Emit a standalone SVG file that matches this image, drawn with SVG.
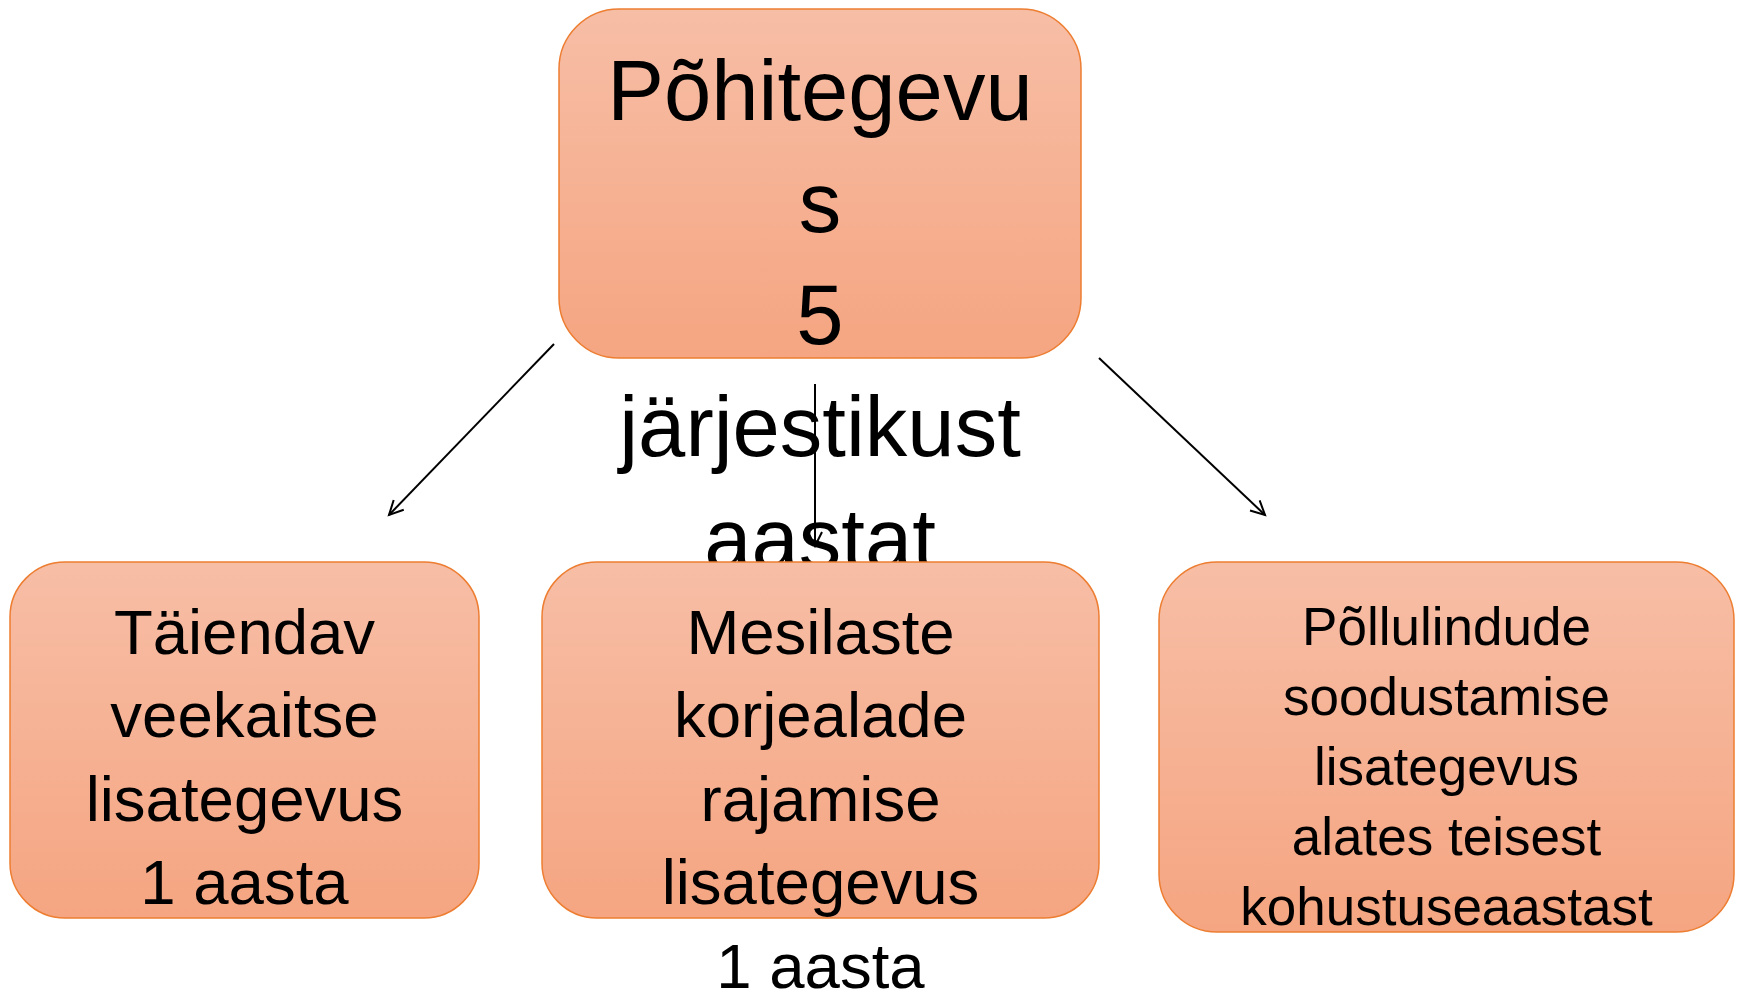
<svg xmlns="http://www.w3.org/2000/svg" width="1744" height="994" viewBox="0 0 1744 994">
<style>
.box{fill:url(#g);stroke:#ED7D31;stroke-width:1.5}
.t{font-family:"Liberation Sans",Arial,sans-serif;fill:#000;text-anchor:middle}
.c{stroke:#000;stroke-width:2;fill:none}
</style>
<defs>
<linearGradient id="g" x1="0" y1="0" x2="0" y2="1">
<stop offset="0" stop-color="#F7BEA6"/>
<stop offset="1" stop-color="#F5A581"/>
</linearGradient>
<marker id="a" markerWidth="20" markerHeight="20" refX="15" refY="8" orient="auto" markerUnits="userSpaceOnUse">
<path d="M1,1 L15,8 L1,15" fill="none" stroke="#000" stroke-width="2"/>
</marker>
</defs>
<rect width="1744" height="994" fill="#fff"/>
<g id="n0">
<rect class="box" x="559" y="9" width="522" height="349" rx="60" ry="60"/>
<text class="t" font-size="85" x="820" y="120">Põhitegevu</text>
<text class="t" font-size="85" x="820" y="232">s</text>
<text class="t" font-size="85" x="820" y="344">5</text>
<text class="t" font-size="85" x="820" y="456">järjestikust</text>
<text class="t" font-size="85" x="820" y="568">aastat</text>
</g>
<g id="connectors">
<line class="c" x1="554" y1="344" x2="389" y2="515" marker-end="url(#a)"/>
<line class="c" x1="815" y1="384" x2="815" y2="546" marker-end="url(#a)"/>
<line class="c" x1="1099" y1="358" x2="1265" y2="515" marker-end="url(#a)"/>
</g>
<g id="n1">
<rect class="box" x="10" y="562" width="469" height="356" rx="55" ry="55"/>
<text class="t" font-size="63.5" x="244.5" y="654">Täiendav</text>
<text class="t" font-size="63.5" x="244.5" y="737">veekaitse</text>
<text class="t" font-size="63.5" x="244.5" y="821">lisategevus</text>
<text class="t" font-size="63.5" x="244.5" y="904">1 aasta</text>
</g>
<g id="n2">
<rect class="box" x="542" y="562" width="557" height="356" rx="55" ry="55"/>
<text class="t" font-size="63.5" x="820.5" y="654">Mesilaste</text>
<text class="t" font-size="63.5" x="820.5" y="737">korjealade</text>
<text class="t" font-size="63.5" x="820.5" y="821">rajamise</text>
<text class="t" font-size="63.5" x="820.5" y="904">lisategevus</text>
<text class="t" font-size="63.5" x="820.5" y="988">1 aasta</text>
</g>
<g id="n3">
<rect class="box" x="1159" y="562" width="575" height="370" rx="58" ry="58"/>
<text class="t" font-size="53" x="1446.5" y="645">Põllulindude</text>
<text class="t" font-size="53" x="1446.5" y="715">soodustamise</text>
<text class="t" font-size="53" x="1446.5" y="785">lisategevus</text>
<text class="t" font-size="53" x="1446.5" y="855">alates teisest</text>
<text class="t" font-size="53" x="1446.5" y="925">kohustuseaastast</text>
</g>
</svg>
